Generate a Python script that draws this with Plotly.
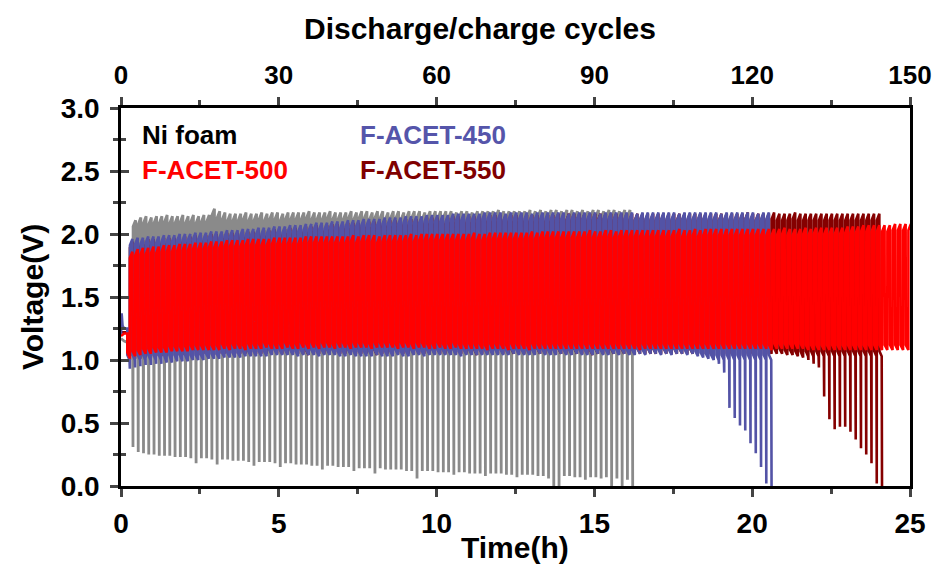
import plotly.graph_objects as go

# ---------------- data ----------------
CYCLE_H = 1.0 / 6.0          # one discharge/charge cycle lasts 10 min
X_TICKS = [0, 5, 10, 15, 20, 25]
Y_TICKS = [0.0, 0.5, 1.0, 1.5, 2.0, 2.5, 3.0]
CYCLE_TICKS = [0, 30, 60, 90, 120, 150]

SERIES_NAMES = ["Ni foam", "F-ACET-450", "F-ACET-500", "F-ACET-550"]

# start of cycling (h) and initial rest segment
GRAY_START = 0.30
GRAY_REST_T = [0.0, 0.10, 0.20, 0.30]
GRAY_REST_V = [1.17, 1.15, 1.14, 1.13]
BLUE_START = 0.20
BLUE_REST_T = [0.0, 0.02, 0.05, 0.10, 0.20]
BLUE_REST_V = [1.20, 1.37, 1.27, 1.25, 1.25]
RED_START = 0.20
RED_REST_T = [0.0, 0.05, 0.10, 0.20]
RED_REST_V = [1.19, 1.20, 1.21, 1.21]
DARK_START = 0.20
DARK_REST_T = [0.0, 0.10, 0.20]
DARK_REST_V = [1.22, 1.22, 1.22]

# per-cycle charge peak (hi) and discharge trough (lo) voltages
GRAY_HI = [2.11, 2.13, 2.14, 2.13, 2.14, 2.14, 2.15, 2.14, 2.14, 2.15,
           2.14, 2.15, 2.14, 2.15, 2.15, 2.20, 2.18, 2.17, 2.16, 2.16,
           2.16, 2.17, 2.16, 2.16, 2.17, 2.16, 2.17, 2.17, 2.16, 2.17,
           2.17, 2.17, 2.17, 2.18, 2.17, 2.17, 2.17, 2.18, 2.17, 2.17,
           2.17, 2.18, 2.17, 2.18, 2.18, 2.17, 2.18, 2.18, 2.17, 2.18,
           2.18, 2.17, 2.18, 2.18, 2.18, 2.17, 2.18, 2.18, 2.18, 2.18,
           2.18, 2.17, 2.18, 2.18, 2.17, 2.18, 2.18, 2.18, 2.18, 2.19,
           2.18, 2.18, 2.18, 2.18, 2.18, 2.19, 2.18, 2.19, 2.18, 2.19,
           2.19, 2.18, 2.19, 2.19, 2.18, 2.19, 2.18, 2.19, 2.19, 2.18,
           2.19, 2.19, 2.18, 2.19, 2.19, 2.18]
GRAY_LO = [0.31, 0.27, 0.26, 0.25, 0.25, 0.24, 0.24, 0.24, 0.23, 0.23,
           0.23, 0.22, 0.18, 0.22, 0.22, 0.21, 0.17, 0.21, 0.21, 0.20,
           0.20, 0.20, 0.19, 0.16, 0.19, 0.19, 0.19, 0.18, 0.15, 0.18,
           0.18, 0.17, 0.17, 0.17, 0.16, 0.16, 0.13, 0.16, 0.16, 0.15,
           0.15, 0.15, 0.12, 0.14, 0.14, 0.14, 0.10, 0.14, 0.13, 0.13,
           0.13, 0.13, 0.12, 0.12, 0.06, 0.12, 0.12, 0.12, 0.11, 0.11,
           0.11, 0.09, 0.11, 0.11, 0.10, 0.10, 0.10, 0.08, 0.10, 0.10,
           0.10, 0.09, 0.09, 0.07, 0.09, 0.09, 0.09, 0.08, 0.08, 0.06,
           0.00, 0.00, 0.08, 0.08, 0.07, 0.07, 0.05, 0.07, 0.07, 0.06,
           0.07, 0.00, 0.06, 0.00, 0.05, 0.00]

BLUE_HI = [1.96, 1.97, 1.97, 1.98, 1.98, 1.98, 1.99, 1.99, 1.99, 2.00,
           2.00, 2.00, 2.01, 2.01, 2.01, 2.02, 2.02, 2.02, 2.03, 2.03,
           2.03, 2.04, 2.04, 2.04, 2.05, 2.05, 2.05, 2.06, 2.06, 2.06,
           2.07, 2.07, 2.07, 2.08, 2.08, 2.09, 2.09, 2.09, 2.10, 2.10,
           2.10, 2.11, 2.11, 2.11, 2.12, 2.12, 2.12, 2.12, 2.13, 2.13,
           2.13, 2.13, 2.14, 2.14, 2.14, 2.14, 2.15, 2.15, 2.15, 2.15,
           2.15, 2.16, 2.16, 2.16, 2.16, 2.16, 2.16, 2.17, 2.17, 2.17,
           2.17, 2.16, 2.17, 2.17, 2.17, 2.17, 2.16, 2.17, 2.17, 2.17,
           2.17, 2.17, 2.17, 2.16, 2.17, 2.17, 2.17, 2.17, 2.17, 2.16,
           2.17, 2.17, 2.17, 2.17, 2.17, 2.17, 2.16, 2.17, 2.17, 2.17,
           2.17, 2.17, 2.17, 2.17, 2.16, 2.17, 2.17, 2.17, 2.17, 2.17,
           2.17, 2.17, 2.16, 2.17, 2.17, 2.17, 2.17, 2.17, 2.17, 2.16,
           2.17, 2.17, 2.17]
BLUE_LO = [0.93, 0.94, 0.95, 0.96, 0.96, 0.97, 0.97, 0.98, 0.98, 0.99,
           0.99, 0.99, 1.00, 1.00, 1.00, 1.01, 1.01, 1.01, 1.02, 1.02,
           1.02, 1.02, 1.03, 1.03, 1.03, 1.03, 1.03, 1.04, 1.04, 1.04,
           1.04, 1.04, 1.03, 1.04, 1.04, 1.04, 1.03, 1.04, 1.04, 1.04,
           1.03, 1.03, 1.04, 1.03, 1.03, 1.03, 1.03, 1.04, 1.03, 1.03,
           1.03, 1.04, 1.03, 1.03, 1.04, 1.04, 1.03, 1.04, 1.04, 1.04,
           1.04, 1.04, 1.04, 1.03, 1.04, 1.04, 1.04, 1.04, 1.04, 1.04,
           1.04, 1.04, 1.04, 1.05, 1.04, 1.04, 1.04, 1.04, 1.05, 1.04,
           1.04, 1.04, 1.05, 1.04, 1.04, 1.05, 1.04, 1.04, 1.04, 1.05,
           1.04, 1.04, 1.05, 1.04, 1.05, 1.04, 1.04, 1.05, 1.04, 1.05,
           1.05, 1.04, 1.05, 1.04, 1.05, 1.05, 1.04, 1.05, 1.03, 1.02,
           1.01, 1.00, 0.97, 0.90, 0.62, 0.54, 0.48, 0.44, 0.34, 0.26,
           0.15, 0.02, 0.00]

RED_HI = [1.86, 1.88, 1.89, 1.89, 1.90, 1.90, 1.91, 1.91, 1.91, 1.92,
          1.92, 1.92, 1.93, 1.93, 1.93, 1.94, 1.94, 1.94, 1.95, 1.95,
          1.95, 1.95, 1.96, 1.96, 1.96, 1.96, 1.96, 1.97, 1.97, 1.97,
          1.97, 1.97, 1.97, 1.98, 1.98, 1.98, 1.98, 1.98, 1.98, 1.98,
          1.98, 1.98, 1.99, 1.98, 1.99, 1.99, 1.99, 1.98, 1.99, 1.99,
          1.99, 1.99, 1.99, 2.00, 1.99, 2.00, 2.00, 2.00, 2.00, 2.00,
          2.00, 2.00, 2.00, 2.00, 2.00, 2.01, 2.00, 2.00, 2.01, 2.01,
          2.01, 2.01, 2.01, 2.01, 2.01, 2.01, 2.02, 2.01, 2.02, 2.02,
          2.02, 2.02, 2.02, 2.02, 2.02, 2.02, 2.02, 2.03, 2.02, 2.02,
          2.03, 2.03, 2.02, 2.03, 2.03, 2.03, 2.03, 2.03, 2.03, 2.03,
          2.03, 2.03, 2.03, 2.03, 2.04, 2.03, 2.03, 2.04, 2.03, 2.04,
          2.04, 2.04, 2.04, 2.04, 2.04, 2.04, 2.04, 2.04, 2.04, 2.04,
          2.04, 2.04, 2.04, 2.04, 2.05, 2.04, 2.04, 2.04, 2.05, 2.04,
          2.05, 2.05, 2.05, 2.05, 2.05, 2.05, 2.06, 2.06, 2.06, 2.07,
          2.07, 2.07, 2.07, 2.07, 2.07, 2.08, 2.08, 2.08, 2.08]
RED_LO = [1.02, 1.03, 1.04, 1.05, 1.05, 1.06, 1.06, 1.06, 1.07, 1.07,
          1.07, 1.07, 1.08, 1.08, 1.08, 1.08, 1.08, 1.08, 1.09, 1.08,
          1.09, 1.09, 1.08, 1.09, 1.09, 1.09, 1.10, 1.09, 1.09, 1.09,
          1.10, 1.09, 1.09, 1.10, 1.09, 1.10, 1.09, 1.10, 1.10, 1.09,
          1.10, 1.10, 1.09, 1.10, 1.10, 1.10, 1.09, 1.10, 1.10, 1.10,
          1.10, 1.09, 1.10, 1.10, 1.09, 1.10, 1.10, 1.09, 1.09, 1.10,
          1.09, 1.09, 1.10, 1.09, 1.09, 1.09, 1.09, 1.09, 1.08, 1.09,
          1.09, 1.09, 1.08, 1.09, 1.09, 1.09, 1.08, 1.09, 1.09, 1.09,
          1.09, 1.09, 1.09, 1.09, 1.09, 1.09, 1.09, 1.09, 1.09, 1.09,
          1.09, 1.09, 1.09, 1.09, 1.09, 1.09, 1.09, 1.08, 1.09, 1.09,
          1.09, 1.09, 1.09, 1.09, 1.09, 1.09, 1.09, 1.09, 1.09, 1.09,
          1.09, 1.09, 1.09, 1.09, 1.09, 1.09, 1.09, 1.09, 1.09, 1.09,
          1.09, 1.09, 1.08, 1.09, 1.09, 1.09, 1.09, 1.09, 1.09, 1.08,
          1.08, 1.08, 1.08, 1.08, 1.08, 1.08, 1.08, 1.08, 1.08, 1.08,
          1.08, 1.08, 1.08, 1.08, 1.08, 1.08, 1.08, 1.08, 1.08]

DARK_HI = [1.94, 1.95, 1.95, 1.96, 1.96, 1.96, 1.97, 1.97, 1.97, 1.98,
           1.98, 1.98, 1.99, 1.99, 1.99, 2.00, 2.00, 2.00, 2.01, 2.01,
           2.01, 2.02, 2.02, 2.02, 2.03, 2.03, 2.03, 2.04, 2.04, 2.04,
           2.05, 2.05, 2.05, 2.06, 2.06, 2.07, 2.07, 2.07, 2.08, 2.08,
           2.08, 2.09, 2.09, 2.09, 2.10, 2.10, 2.10, 2.10, 2.11, 2.11,
           2.11, 2.11, 2.12, 2.12, 2.12, 2.12, 2.13, 2.13, 2.13, 2.13,
           2.13, 2.14, 2.14, 2.14, 2.14, 2.14, 2.14, 2.15, 2.15, 2.15,
           2.15, 2.15, 2.15, 2.15, 2.15, 2.15, 2.15, 2.15, 2.15, 2.15,
           2.15, 2.16, 2.15, 2.16, 2.16, 2.16, 2.16, 2.16, 2.16, 2.16,
           2.16, 2.16, 2.16, 2.16, 2.16, 2.16, 2.16, 2.16, 2.16, 2.16,
           2.16, 2.16, 2.16, 2.16, 2.16, 2.16, 2.16, 2.16, 2.16, 2.16,
           2.16, 2.16, 2.16, 2.16, 2.16, 2.16, 2.16, 2.17, 2.16, 2.16,
           2.16, 2.16, 2.17, 2.16, 2.16, 2.16, 2.17, 2.16, 2.16, 2.16,
           2.16, 2.16, 2.16, 2.16, 2.16, 2.16, 2.16, 2.16, 2.16, 2.16,
           2.16, 2.16, 2.16, 2.16]
DARK_LO = [1.00, 1.01, 1.01, 1.02, 1.02, 1.03, 1.03, 1.03, 1.04, 1.04,
           1.04, 1.04, 1.05, 1.04, 1.05, 1.05, 1.04, 1.05, 1.05, 1.05,
           1.05, 1.05, 1.05, 1.04, 1.05, 1.05, 1.05, 1.05, 1.05, 1.05,
           1.05, 1.05, 1.05, 1.05, 1.04, 1.05, 1.05, 1.05, 1.05, 1.05,
           1.05, 1.05, 1.05, 1.05, 1.05, 1.05, 1.05, 1.04, 1.05, 1.05,
           1.05, 1.05, 1.05, 1.05, 1.05, 1.05, 1.05, 1.05, 1.05, 1.05,
           1.05, 1.05, 1.05, 1.05, 1.05, 1.05, 1.04, 1.05, 1.05, 1.05,
           1.05, 1.05, 1.05, 1.05, 1.05, 1.05, 1.05, 1.05, 1.05, 1.05,
           1.05, 1.05, 1.05, 1.05, 1.05, 1.05, 1.05, 1.05, 1.04, 1.05,
           1.05, 1.05, 1.05, 1.05, 1.05, 1.05, 1.05, 1.05, 1.05, 1.05,
           1.05, 1.05, 1.05, 1.05, 1.05, 1.05, 1.05, 1.05, 1.05, 1.05,
           1.05, 1.05, 1.05, 1.05, 1.05, 1.05, 1.05, 1.05, 1.05, 1.05,
           1.05, 1.05, 1.05, 1.05, 1.05, 1.04, 1.04, 1.03, 1.02, 1.00,
           0.97, 0.94, 0.71, 0.53, 0.45, 0.47, 0.47, 0.43, 0.37, 0.30,
           0.25, 0.18, 0.02, 0.00]

COLORS = {"Ni foam": "#8a8a8a", "F-ACET-450": "#5353a6",
          "F-ACET-500": "#ff0000", "F-ACET-550": "#850000"}
LABEL_COLORS = {"Ni foam": "#000000", "F-ACET-450": "#5555aa",
                "F-ACET-500": "#ff0000", "F-ACET-550": "#800000"}
LINE_W = {"Ni foam": 2.8, "F-ACET-450": 2.6, "F-ACET-500": 2.6, "F-ACET-550": 2.6}


def cycle_trace(start, rest_t, rest_v, hi, lo, plateau, dies):
    """Discharge (flat, then dive to trough) followed by charge (to peak)."""
    xs = list(rest_t)
    ys = list(rest_v)
    p = CYCLE_H
    n = len(hi)
    for k in range(n):
        t0 = start + k * p
        d = max(lo[k], plateau)
        xs += [t0, t0 + 0.42 * p, t0 + 0.48 * p]
        ys += [d + 0.04, d, lo[k]]
        if dies and k == n - 1:
            break
        xs += [t0 + 0.50 * p, t0 + 0.97 * p]
        ys += [hi[k] - 0.05, hi[k]]
    return xs, ys


FONT = "Liberation Sans, Arial, sans-serif"

fig = go.Figure()
specs = [
    ("Ni foam", GRAY_START, GRAY_REST_T, GRAY_REST_V, GRAY_HI, GRAY_LO, 1.10, True),
    ("F-ACET-550", DARK_START, DARK_REST_T, DARK_REST_V, DARK_HI, DARK_LO, 1.03, True),
    ("F-ACET-450", BLUE_START, BLUE_REST_T, BLUE_REST_V, BLUE_HI, BLUE_LO, 1.00, True),
    ("F-ACET-500", RED_START, RED_REST_T, RED_REST_V, RED_HI, RED_LO, 0.90, False),
]
for name, st, rt, rv, hi, lo, plat, dies in specs:
    xs, ys = cycle_trace(st, rt, rv, hi, lo, plat, dies)
    fig.add_trace(go.Scatter(x=xs, y=ys, mode="lines", name=name,
                             line=dict(color=COLORS[name], width=LINE_W[name]),
                             showlegend=False, hoverinfo="skip"))

tickfont = dict(family=FONT, size=28, color="black", weight="bold")
topfont = dict(family=FONT, size=26, color="black", weight="bold")
AXW = 2.5

fig.update_layout(
    width=935, height=565,
    margin=dict(l=121, r=25, t=108, b=79, autoexpand=False),
    paper_bgcolor="white", plot_bgcolor="white",
    xaxis=dict(range=[0, 25], tickvals=X_TICKS, ticks="outside", ticklen=8,
               tickwidth=AXW, showline=True, linewidth=AXW, linecolor="black",
               showgrid=False, zeroline=False, tickfont=tickfont,
               automargin=False, ticklabelstandoff=3,
               minor=dict(dtick=2.5, ticks="outside", ticklen=5, tickwidth=AXW,
                          showgrid=False)),
    xaxis2=dict(range=[0, 150], overlaying="x", side="top", anchor="y",
                tickvals=CYCLE_TICKS, ticks="outside", ticklen=8, tickwidth=AXW,
                showline=True, linewidth=AXW, linecolor="black",
                showgrid=False, zeroline=False, tickfont=topfont,
                automargin=False, ticklabelstandoff=3,
                minor=dict(dtick=15, ticks="outside", ticklen=5, tickwidth=AXW,
                           showgrid=False)),
    yaxis=dict(range=[0, 3], tickvals=Y_TICKS, tickformat=".1f", ticks="outside",
               ticklen=8, tickwidth=AXW, showline=True, linewidth=AXW,
               linecolor="black", mirror=True, showgrid=False, zeroline=False,
               tickfont=tickfont, automargin=False, ticklabelstandoff=5,
               minor=dict(dtick=0.25, ticks="outside", ticklen=5, tickwidth=AXW,
                          showgrid=False)),
    yaxis3=dict(range=[0, 3], overlaying="y", anchor="x", side="left",
                tickvals=Y_TICKS, ticks="inside", ticklen=8, tickwidth=AXW,
                showticklabels=False, showline=False, showgrid=False,
                zeroline=False, automargin=False,
                minor=dict(dtick=0.25, ticks="inside", ticklen=5, tickwidth=AXW,
                           showgrid=False)),
)

# overlay axes carry no marks of their own; these empty traces just bind them
fig.add_trace(go.Scatter(x=[CYCLE_TICKS[0], CYCLE_TICKS[-1]], y=[None, None],
                         xaxis="x2", yaxis="y", mode="lines", showlegend=False,
                         hoverinfo="skip"))
fig.add_trace(go.Scatter(x=[X_TICKS[0], X_TICKS[-1]], y=[None, None],
                         xaxis="x", yaxis="y3", mode="lines", showlegend=False,
                         hoverinfo="skip"))

# plot-area geometry in window pixels
PL, PT, PW, PH = 121, 108, 789, 378


def px(x):
    return (x - PL) / PW


def py(y):
    return (PT + PH - y) / PH


title_font = dict(family=FONT, size=30, color="black", weight="bold")
ann = [
    dict(text="Time(h)", x=px(515), y=py(547), font=title_font),
    dict(text="Voltage(V)", x=px(32), y=py(297), textangle=-90, font=title_font),
    dict(text="Discharge/charge cycles", x=px(480), y=py(28), font=title_font),
]
legend_pos = {"Ni foam": (140, 135), "F-ACET-450": (358, 135),
              "F-ACET-500": (140, 170), "F-ACET-550": (358, 170)}
for name in SERIES_NAMES:
    lx, ly = legend_pos[name]
    ann.append(dict(text=name, x=px(lx), y=py(ly), xanchor="left",
                    font=dict(family=FONT, size=26, color=LABEL_COLORS[name],
                              weight="bold")))
for a in ann:
    a.update(xref="paper", yref="paper", showarrow=False)
    a.setdefault("xanchor", "center")
    a.setdefault("yanchor", "middle")
fig.update_layout(annotations=ann)

# remove the default page margin so the 935x565 figure fills the window
fig.write_html("out.html", config={"displayModeBar": False},
               post_script="document.body.style.margin='0';"
                           "document.body.style.overflow='hidden';")
